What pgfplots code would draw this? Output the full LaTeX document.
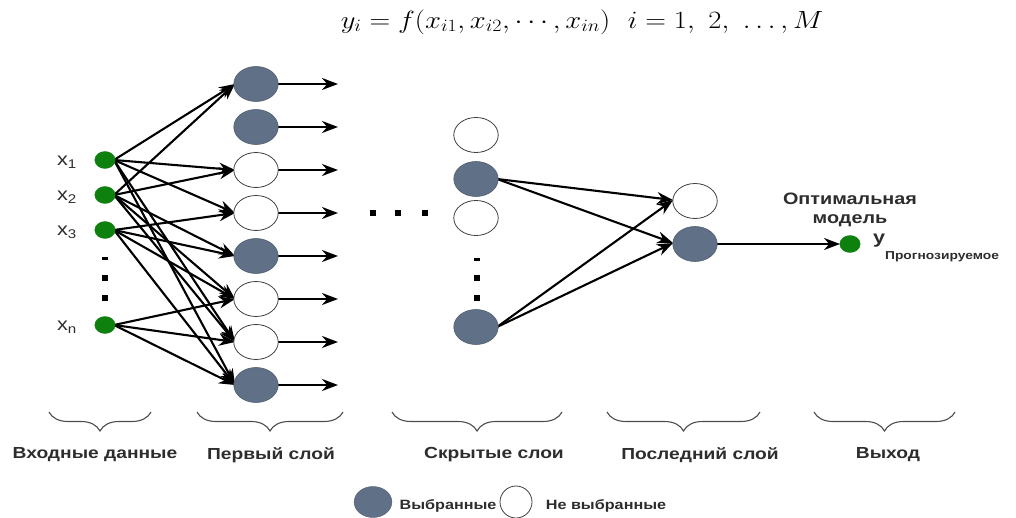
\documentclass[border=0pt]{standalone}
\usepackage{fontspec}
\setmainfont{Liberation Sans}[FakeStretch=1.2]
\usepackage{graphicx}
\usepackage{pgfplots}
\pgfplotsset{compat=1.18}
\usetikzlibrary{arrows.meta,decorations.pathreplacing}
\definecolor{sel}{RGB}{96,112,134}
\definecolor{grn}{RGB}{14,128,14}
\definecolor{lab}{RGB}{45,45,45}
\tikzset{brc/.style={decorate, decoration={brace, mirror, amplitude=19pt}, black!70, line width=1.1pt}}
\begin{document}
\begin{tikzpicture}
\begin{axis}[scale only axis, width=1016pt, height=516pt,
  xmin=0, xmax=1016, ymin=0, ymax=516, y dir=reverse,
  hide axis, clip=false,
  arr/.style={line width=2.1pt, black, -{Stealth[length=16pt,width=12pt]}},
  selnode/.style={only marks, mark=*, mark size=17.5pt, mark options={xscale=1.27, fill=sel, draw=sel!85!black, line width=0.6pt}},
  wnode/.style={only marks, mark=*, mark size=17.5pt, mark options={xscale=1.27, fill=white, draw=black!75, line width=0.8pt}},
  gnode/.style={only marks, mark=*, mark size=8.5pt, mark options={xscale=1.2, fill=grn, draw=grn}},
]
\path (rel axis cs:0,0) rectangle (rel axis cs:1,1);
% formula
\node at (axis cs:582,22) {\fontsize{23}{26}\selectfont\scalebox{1.15}[1]{$y_i = f(x_{i1}, x_{i2}, \cdots, x_{in})\ \ i = 1,\ 2,\ \ldots, M$}};
% input -> first layer
\addplot[arr] coordinates {(114,160) (235,84)};
\addplot[arr] coordinates {(114,160) (235,170)};
\addplot[arr] coordinates {(114,160) (235,213)};
\addplot[arr] coordinates {(114,160) (235,342)};
\addplot[arr] coordinates {(114,160) (235,385)};
\addplot[arr] coordinates {(114,195) (235,84)};
\addplot[arr] coordinates {(114,195) (235,170)};
\addplot[arr] coordinates {(114,195) (235,256)};
\addplot[arr] coordinates {(114,195) (235,299)};
\addplot[arr] coordinates {(114,195) (235,342)};
\addplot[arr] coordinates {(114,230) (235,213)};
\addplot[arr] coordinates {(114,230) (235,256)};
\addplot[arr] coordinates {(114,230) (235,299)};
\addplot[arr] coordinates {(114,230) (235,385)};
\addplot[arr] coordinates {(114,325) (235,299)};
\addplot[arr] coordinates {(114,325) (235,342)};
\addplot[arr] coordinates {(114,325) (235,385)};
% first layer outputs
\addplot[arr] coordinates {(278,84) (338,84)};
\addplot[arr] coordinates {(278,127) (338,127)};
\addplot[arr] coordinates {(278,170) (338,170)};
\addplot[arr] coordinates {(278,213) (338,213)};
\addplot[arr] coordinates {(278,256) (338,256)};
\addplot[arr] coordinates {(278,299) (338,299)};
\addplot[arr] coordinates {(278,342) (338,342)};
\addplot[arr] coordinates {(278,385) (338,385)};
% hidden -> last
\addplot[arr] coordinates {(497,179) (673,200)};
\addplot[arr] coordinates {(497,179) (673,243)};
\addplot[arr] coordinates {(497,327) (673,200)};
\addplot[arr] coordinates {(497,327) (673,243)};
% last -> output
\addplot[arr] coordinates {(717,244) (840,244)};
% nodes
\addplot[gnode] coordinates {(105,160) (105,195) (105,230) (105,325) (850,244)};
\addplot[selnode] coordinates {(256,84) (256,127) (256,256) (256,385) (476,179) (476,327) (695,244)};
\addplot[wnode] coordinates {(256,170) (256,213) (256,299) (256,342) (476,135) (476,218) (695,201)};
% dots
\addplot[only marks, mark=square*, mark size=2.6pt, black] coordinates {(105,278) (105,298) (477,278) (477,298) (373,213) (398,213) (425,213)};
\addplot[only marks, mark=square*, mark size=2.6pt, mark options={yscale=0.45}, black] coordinates {(105,258) (477,259)};
% input labels
\node[lab] at (axis cs:67,162) {\fontsize{18}{20}\selectfont x\textsubscript{1}};
\node[lab] at (axis cs:67,197) {\fontsize{18}{20}\selectfont x\textsubscript{2}};
\node[lab] at (axis cs:67,232) {\fontsize{18}{20}\selectfont x\textsubscript{3}};
\node[lab] at (axis cs:67,327) {\fontsize{18}{20}\selectfont x\textsubscript{n}};
% output labels
\node[lab, align=center, font={\bfseries\fontsize{16.5}{19}\selectfont}] at (axis cs:850,210) {Оптимальная\\ модель};
\node[lab] at (axis cs:879,241) {\bfseries\fontsize{18}{20}\selectfont y};
\node[lab] at (axis cs:942,257) {\bfseries\fontsize{11.5}{13}\selectfont Прогнозируемое};
% braces
\draw[brc] (axis cs:49,412) -- (axis cs:151,412);
\draw[brc] (axis cs:197,412) -- (axis cs:343,412);
\draw[brc] (axis cs:392,412) -- (axis cs:562,412);
\draw[brc] (axis cs:607,412) -- (axis cs:760,412);
\draw[brc] (axis cs:814,412) -- (axis cs:955,412);
% layer labels
\node[lab] at (axis cs:95,455) {\bfseries\fontsize{16}{18}\selectfont Входные данные};
\node[lab] at (axis cs:271,455) {\bfseries\fontsize{16}{18}\selectfont Первый слой};
\node[lab] at (axis cs:494,455) {\bfseries\fontsize{16}{18}\selectfont Скрытые слои};
\node[lab] at (axis cs:700,455) {\bfseries\fontsize{16}{18}\selectfont Последний слой};
\node[lab] at (axis cs:888,455) {\bfseries\fontsize{16}{18}\selectfont Выход};
% legend
\addplot[only marks, mark=*, mark size=15.5pt, mark options={xscale=1.22, fill=sel, draw=sel!85!black}] coordinates {(373,502)};
\addplot[only marks, mark=*, mark size=16pt, mark options={xscale=1.0, fill=white, draw=black!75, line width=0.8pt}] coordinates {(516,502)};
\node[lab] at (axis cs:448,506) {\bfseries\fontsize{13.5}{15}\selectfont Выбранные};
\node[lab] at (axis cs:606,506) {\bfseries\fontsize{13.5}{15}\selectfont Не выбранные};
\end{axis}
\end{tikzpicture}
\end{document}
